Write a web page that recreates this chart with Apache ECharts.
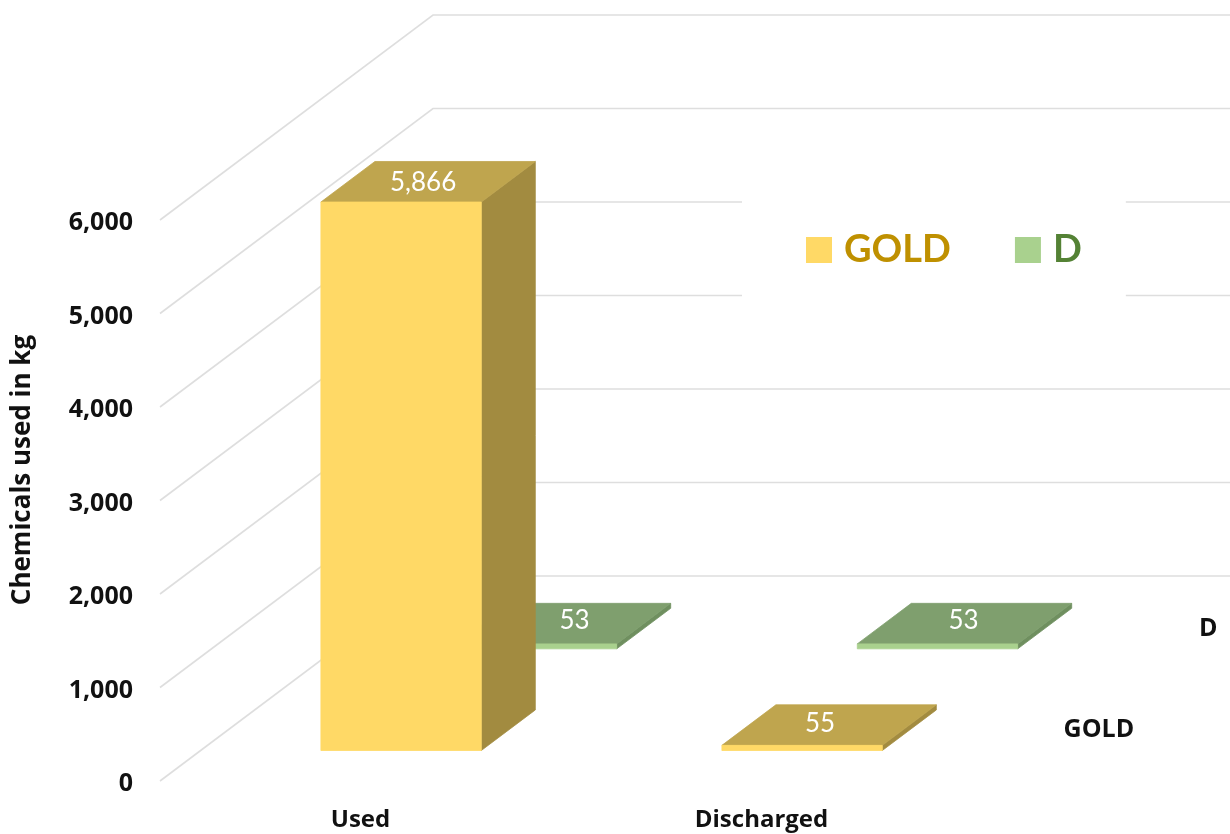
<!DOCTYPE html>
<html>
<head>
<meta charset="utf-8">
<title>Chemicals used and discharged</title>
<script src="https://cdn.jsdelivr.net/npm/echarts@6/dist/echarts.min.js"></script>
<style>
  html, body { margin: 0; padding: 0; background: #fff; }
  #chart { width: 1230px; height: 834px; }
</style>
</head>
<body>
<div id="chart"></div>
<script>
// Chart data
const categories = ['Used', 'Discharged'];
const goldValues = [5866, 55];
const dValues = [53, 53];
const valueTicks = [0, 1000, 2000, 3000, 4000, 5000, 6000];
const rowNames = ['GOLD', 'D'];

// Oblique projection used for the pseudo-3D walls and columns (pixels)
const WALL_DX = 273, WALL_DY = 205;
const SLOPE = WALL_DY / WALL_DX;
const COLUMN_DEPTH = 54;
const ROW_DEPTH = { GOLD: 40.6, D: 176 };
const ROW_LABEL_GAP = 34;
const LABEL_FONT = '"Open Sans", Lato, sans-serif';
const FONT = 'Lato, "Open Sans", sans-serif';

// Hand-placed shifts of the value labels on the top faces: [dx, dy] per category
const LABEL_SHIFT = { GOLD: [[-5, 1], [-9, -1]], D: [[11, -3], [-1, -3]] };

const skins = {
  GOLD: { front: '#FFD966', top: '#BFA54E', side: '#A28B40' },
  D:    { front: '#A9D18E', top: '#7F9F6E', side: '#6F8F5F' }
};

const shift = (p, depth) => [p[0] + depth, p[1] - depth * SLOPE];
const poly = (points, fill) => ({
  type: 'polygon',
  shape: { points },
  style: { fill, stroke: fill, lineWidth: 0.8 },
  silent: true
});

// One column: side face, top face, front face and its value label
function columnRenderer(row) {
  const skin = skins[row];
  return function (params, api) {
    const cat = api.value(0), value = api.value(1);
    const band = api.size([1, 0])[0];
    const half = band * 0.2;
    const base = shift(api.coord([cat, 0]), ROW_DEPTH[row]);
    const head = shift(api.coord([cat, value]), ROW_DEPTH[row]);
    const fl = [base[0] - half, base[1]], fr = [base[0] + half, base[1]];
    const tl = [head[0] - half, head[1]], tr = [head[0] + half, head[1]];
    const nudge = LABEL_SHIFT[row][cat];
    return {
      type: 'group',
      children: [
        poly([fr, tr, shift(tr, COLUMN_DEPTH), shift(fr, COLUMN_DEPTH)], skin.side),
        poly([tl, tr, shift(tr, COLUMN_DEPTH), shift(tl, COLUMN_DEPTH)], skin.top),
        poly([fl, fr, tr, tl], skin.front),
        {
          type: 'text',
          silent: true,
          style: {
            x: head[0] + COLUMN_DEPTH / 2 + nudge[0],
            y: head[1] - COLUMN_DEPTH * SLOPE / 2 + nudge[1],
            text: value.toLocaleString('en-US'),
            fill: '#ffffff',
            font: '26px ' + FONT,
            align: 'center',
            verticalAlign: 'middle'
          }
        }
      ]
    };
  };
}

function columnSeries(name, values, row) {
  return {
    name,
    type: 'custom',
    coordinateSystem: 'cartesian2d',
    encode: { x: 0, y: 1 },
    itemStyle: { color: skins[row].front },
    data: values.map((v, i) => [i, v]),
    renderItem: columnRenderer(row),
    z: 3
  };
}

// Left wall and back wall rules
const wallSeries = {
  name: 'walls',
  type: 'custom',
  coordinateSystem: 'cartesian2d',
  encode: { x: 0, y: 1 },
  silent: true,
  data: valueTicks.map(t => [0, t]),
  renderItem(params, api) {
    const y = api.coord([0, api.value(1)])[1];
    const left = params.coordSys.x;
    const right = Math.min(left + params.coordSys.width + WALL_DX, api.getWidth());
    const backY = y - WALL_DY;
    return {
      type: 'polyline',
      shape: { points: [[left, y], [left + WALL_DX, backY], [right, backY]] },
      style: { stroke: '#dedede', lineWidth: 1.6, fill: 'none' },
      silent: true
    };
  },
  z: 1
};

// Names along the depth axis, one per row, past the right end of the floor
const rowLabelSeries = {
  name: 'rows',
  type: 'custom',
  coordinateSystem: 'cartesian2d',
  encode: { x: 0, y: 1 },
  silent: true,
  data: rowNames.map(() => [categories.length - 1, 0]),
  renderItem(params, api) {
    const row = rowNames[params.dataIndex];
    const origin = api.coord([0, 0]);
    const corner = [params.coordSys.x + params.coordSys.width, origin[1]];
    const mid = shift(corner, ROW_DEPTH[row] + COLUMN_DEPTH / 2);
    return {
      type: 'text',
      silent: true,
      style: {
        x: mid[0] + ROW_LABEL_GAP,
        y: mid[1],
        text: row,
        fill: '#111111',
        font: 'bold 25px ' + LABEL_FONT,
        align: 'left',
        verticalAlign: 'middle'
      }
    };
  },
  z: 4
};

const legendText = color => ({
  color,
  fontSize: 38,
  fontWeight: 'bold',
  fontFamily: FONT,
  padding: [0, 0, 0, 7]
});

const chart = echarts.init(document.getElementById('chart'), null, { renderer: 'canvas' });
chart.setOption({
  animation: false,
  backgroundColor: '#ffffff',
  grid: { left: 160, width: 802, top: 220, bottom: 53, containLabel: false, outerBoundsMode: 'none' },
  legend: {
    left: 742,
    top: 197,
    orient: 'horizontal',
    icon: 'rect',
    itemWidth: 26,
    itemHeight: 26,
    itemGap: 64,
    padding: [34, 44, 28, 64],
    backgroundColor: '#ffffff',
    selectedMode: false,
    data: [
      { name: 'GOLD', textStyle: legendText('#BF9000') },
      { name: 'D', textStyle: legendText('#548235') }
    ]
  },
  xAxis: {
    type: 'category',
    data: categories,
    axisLine: { show: false },
    axisTick: { show: false },
    axisLabel: { margin: 27, color: '#111111', fontSize: 24, fontWeight: 'bold', fontFamily: LABEL_FONT }
  },
  yAxis: {
    type: 'value',
    min: 0,
    max: 6000,
    interval: 1000,
    name: 'Chemicals used in kg',
    nameLocation: 'middle',
    nameGap: 124,
    nameRotate: 90,
    nameTextStyle: { color: '#111111', fontSize: 26, fontWeight: 'bold', fontFamily: LABEL_FONT, padding: [0, 0, 0, 61] },
    axisLine: { show: false },
    axisTick: { show: false },
    splitLine: { show: false },
    axisLabel: {
      margin: 27,
      color: '#111111',
      fontSize: 25,
      fontWeight: 'bold',
      fontFamily: LABEL_FONT,
      formatter: v => '{tick|' + v.toLocaleString('en-US') + '}',
      rich: {
        tick: {
          color: '#111111',
          fontSize: 25,
          fontWeight: 'bold',
          fontFamily: LABEL_FONT,
          padding: [6, 0, 0, 0]
        }
      }
    }
  },
  series: [
    wallSeries,
    columnSeries('D', dValues, 'D'),
    columnSeries('GOLD', goldValues, 'GOLD'),
    rowLabelSeries
  ]
});
</script>
</body>
</html>
